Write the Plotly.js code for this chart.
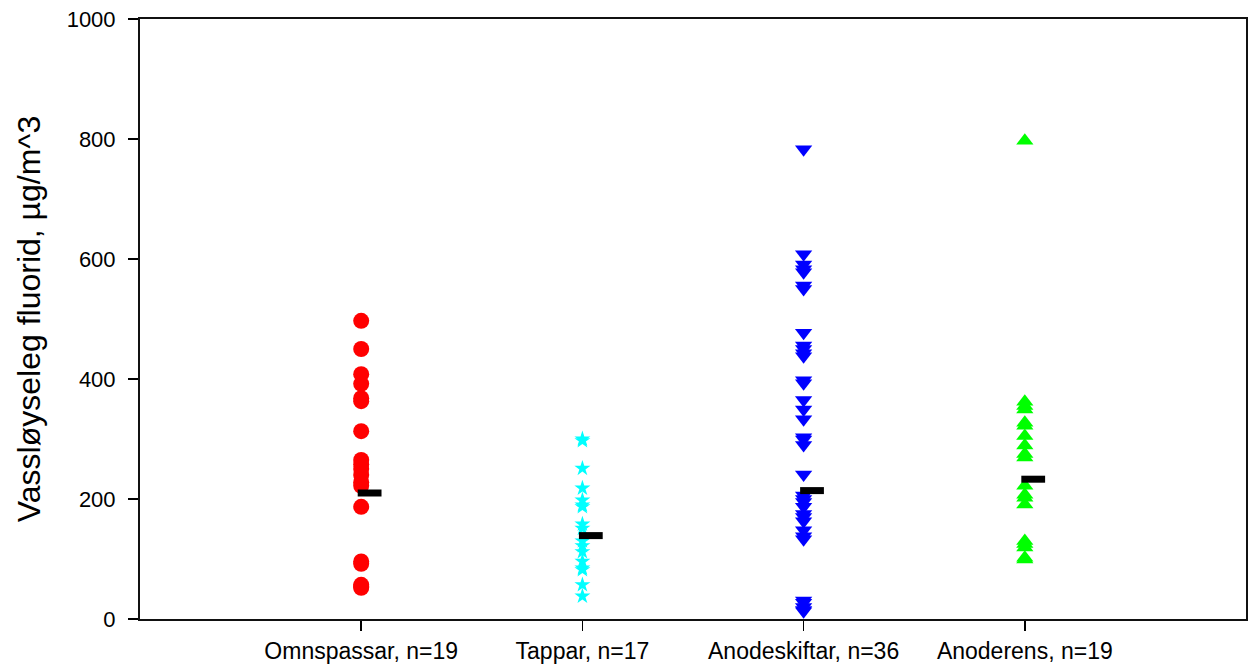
<!DOCTYPE html>
<html>
<head>
<meta charset="utf-8">
<script src="https://cdn.plot.ly/plotly-3.0.1.min.js"></script>
<style>
  html, body { margin: 0; padding: 0; background: #fff; }
  #chart { width: 1253px; height: 669px; }
</style>
</head>
<body>
<div id="chart"></div>
<script>
// Work groups along the x axis
const groups = ["Omnspassar, n=19", "Tappar, n=17", "Anodeskiftar, n=36", "Anoderens, n=19"];

// Water-soluble fluoride per measurement, µg/m^3
const omnspassar = [497, 450, 408, 392, 368, 363, 313, 265, 258, 250, 240, 228, 222, 187, 96, 92, 57, 54, 52];
const tappar = [300, 297, 251, 218, 198, 190, 187, 158, 151, 130, 122, 112, 96, 85, 82, 57, 38];
const anodeskiftar = [783, 608, 591, 583, 578, 556, 550, 477, 456, 450, 443, 438, 398, 393, 365, 349, 333,
                      303, 299, 290, 241, 206, 200, 195, 187, 175, 170, 163, 148, 138, 133, 31, 27, 20, 15, 13];
const anoderens = [797, 362, 355, 349, 327, 322, 305, 289, 275, 269, 222, 207, 202, 191, 130, 125, 119, 102, 99];

// Group summary level shown as a short black bar
const groupLevel = [210, 139, 214, 233];

const tickValues = [0, 200, 400, 600, 800, 1000];

function column(values, index) {
  return values.map(() => index);
}

const font = "Liberation Sans, Arial, sans-serif";

const traces = [
  {
    x: column(omnspassar, 1), y: omnspassar, type: "scatter", mode: "markers",
    marker: { symbol: "circle", size: 16, color: "#ff0000" }, hoverinfo: "y"
  },
  {
    x: column(tappar, 2), y: tappar, type: "scatter", mode: "markers",
    marker: { symbol: "star", size: 12, color: "#00ffff" }, hoverinfo: "y"
  },
  {
    x: column(anodeskiftar, 3), y: anodeskiftar, type: "scatter", mode: "markers",
    marker: { symbol: "triangle-down", size: 15, color: "#0000ff" }, hoverinfo: "y"
  },
  {
    x: column(anoderens, 4), y: anoderens, type: "scatter", mode: "markers",
    marker: { symbol: "triangle-up", size: 15, color: "#00ff00" }, hoverinfo: "y"
  },
  {
    // summary bar starts at the group centre and reaches to its right
    x: groupLevel.map((v, i) => i + 1 + 0.038), y: groupLevel, type: "scatter", mode: "markers",
    marker: { symbol: "line-ew", size: 17, color: "#000", line: { color: "#000", width: 7 } },
    hoverinfo: "y"
  }
];

const layout = {
  width: 1253,
  height: 669,
  margin: { l: 140, r: 7, t: 19, b: 50 },
  paper_bgcolor: "#fff",
  plot_bgcolor: "#fff",
  showlegend: false,
  font: { family: font, color: "#000" },
  xaxis: {
    range: [0, 5],
    tickmode: "array",
    tickvals: [1, 2, 3, 4],
    ticktext: groups,
    ticks: "outside",
    ticklen: 10,
    tickwidth: 1.5,
    tickcolor: "#000",
    tickfont: { family: font, size: 23, color: "#000" },
    showgrid: false,
    zeroline: false,
    showline: true,
    linewidth: 2,
    linecolor: "#111",
    mirror: true
  },
  yaxis: {
    range: [0, 1000],
    tickmode: "array",
    tickvals: tickValues,
    ticktext: tickValues.map(String),
    ticks: "outside",
    ticklen: 10,
    tickwidth: 1.5,
    tickcolor: "#000",
    tickfont: { family: font, size: 22, color: "#000" },
    ticklabelstandoff: 8,
    showgrid: false,
    zeroline: false,
    showline: true,
    linewidth: 2,
    linecolor: "#111",
    mirror: true,
    title: { text: "Vassløyseleg fluorid, µg/m^3", font: { family: font, size: 32, color: "#000" }, standoff: 16 }
  }
};

Plotly.newPlot("chart", traces, layout, { displayModeBar: false, staticPlot: true });
</script>
</body>
</html>
